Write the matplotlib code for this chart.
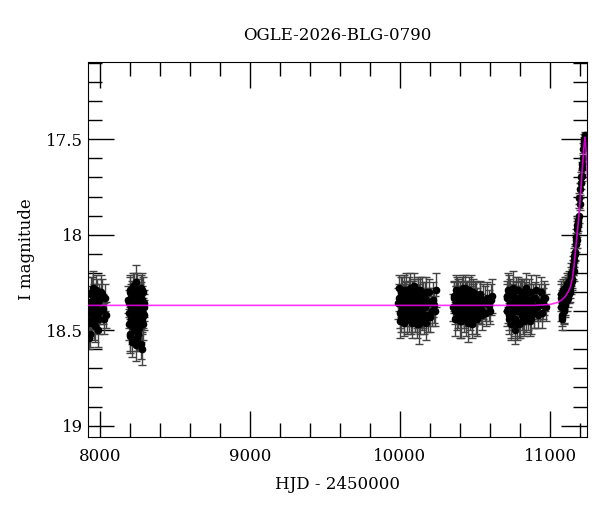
import numpy as np
import matplotlib
matplotlib.use('Agg')
import matplotlib.pyplot as plt
from matplotlib.ticker import MultipleLocator

plt.rcParams['font.family'] = ['DejaVu Serif']

title = 'OGLE-2026-BLG-0790'

# season 1
t1 = [7928, 7932, 7936, 7940, 7945, 7949, 7953, 7958, 7962, 7967, 7971, 7976, 7981, 7986, 7992, 8001, 8012, 8025, 8033]
m1 = [18.54, 18.52, 18.35, 18.41, 18.30, 18.44, 18.37, 18.33, 18.47, 18.39, 18.29, 18.42, 18.36, 18.50, 18.34, 18.40, 18.31, 18.44, 18.33]
e1 = [0.06, 0.07, 0.08, 0.07, 0.08, 0.07, 0.08, 0.07, 0.08, 0.09, 0.08, 0.07, 0.08, 0.09, 0.08, 0.07, 0.08, 0.08, 0.07]
t1b = [7930, 7934, 7938, 7943, 7947, 7951, 7956, 7960, 7965, 7969, 7974, 7979, 7984, 7989, 7996, 8006, 8018, 8040]
m1b = [18.46, 18.38, 18.31, 18.45, 18.36, 18.40, 18.28, 18.43, 18.34, 18.48, 18.37, 18.32, 18.41, 18.35, 18.44, 18.30, 18.39, 18.42]
e1b = [0.08, 0.07, 0.09, 0.08, 0.07, 0.08, 0.09, 0.07, 0.08, 0.08, 0.07, 0.09, 0.08, 0.07, 0.08, 0.09, 0.08, 0.07]

# season 2
t2 = [8190, 8194, 8198, 8201, 8205, 8208, 8212, 8215, 8219, 8222, 8226, 8229, 8233, 8236, 8240, 8243, 8247, 8250, 8254, 8257, 8261, 8264, 8268, 8271, 8275, 8278, 8282, 8285, 8289, 8293]
m2 = [18.34, 18.47, 18.29, 18.52, 18.38, 18.44, 18.56, 18.31, 18.40, 18.35, 18.49, 18.27, 18.42, 18.33, 18.58, 18.25, 18.30, 18.45, 18.39, 18.52, 18.32, 18.43, 18.36, 18.28, 18.47, 18.60, 18.34, 18.41, 18.30, 18.38]
e2 = [0.07, 0.08, 0.08, 0.09, 0.07, 0.08, 0.08, 0.07, 0.09, 0.08, 0.08, 0.07, 0.08, 0.09, 0.08, 0.09, 0.07, 0.08, 0.08, 0.09, 0.07, 0.08, 0.08, 0.07, 0.09, 0.08, 0.07, 0.08, 0.08, 0.07]
t2b = [8192, 8196, 8200, 8203, 8206, 8210, 8213, 8217, 8220, 8224, 8227, 8231, 8234, 8238, 8241, 8245, 8248, 8252, 8255, 8259, 8262, 8266, 8269, 8273, 8276, 8280, 8283, 8287, 8291, 8296]
m2b = [18.41, 18.36, 18.53, 18.30, 18.45, 18.33, 18.48, 18.39, 18.27, 18.43, 18.35, 18.50, 18.32, 18.38, 18.46, 18.29, 18.54, 18.37, 18.31, 18.42, 18.49, 18.34, 18.40, 18.57, 18.33, 18.44, 18.29, 18.47, 18.36, 18.42]
e2b = [0.08, 0.07, 0.09, 0.08, 0.08, 0.07, 0.09, 0.08, 0.07, 0.08, 0.09, 0.08, 0.07, 0.08, 0.08, 0.09, 0.07, 0.08, 0.08, 0.07, 0.09, 0.08, 0.07, 0.08, 0.08, 0.07, 0.09, 0.08, 0.07, 0.08]

# season 3
t3 = [9992, 9998, 10004, 10009, 10015, 10021, 10027, 10033, 10039, 10045, 10051, 10057, 10063, 10069, 10075, 10081, 10087, 10093, 10099, 10105, 10111, 10117, 10123, 10129, 10135, 10141, 10147, 10153, 10160, 10168, 10176, 10185, 10196, 10210, 10228, 10242]
m3 = [18.28, 18.41, 18.35, 18.44, 18.31, 18.38, 18.46, 18.33, 18.29, 18.40, 18.36, 18.43, 18.30, 18.37, 18.45, 18.32, 18.39, 18.27, 18.42, 18.35, 18.47, 18.31, 18.38, 18.47, 18.29, 18.36, 18.41, 18.33, 18.45, 18.38, 18.30, 18.42, 18.35, 18.40, 18.37, 18.29]
e3 = [0.07, 0.08, 0.08, 0.07, 0.09, 0.08, 0.07, 0.08, 0.09, 0.08, 0.07, 0.08, 0.08, 0.09, 0.07, 0.08, 0.08, 0.07, 0.09, 0.08, 0.07, 0.08, 0.08, 0.10, 0.07, 0.08, 0.09, 0.08, 0.07, 0.08, 0.08, 0.09, 0.07, 0.08, 0.09, 0.09]
t3b = [9989, 9995, 10001, 10006, 10012, 10018, 10024, 10030, 10036, 10042, 10048, 10054, 10060, 10066, 10072, 10078, 10084, 10090, 10096, 10102, 10108, 10114, 10120, 10126, 10132, 10138, 10144, 10150, 10156, 10164, 10172, 10180, 10190, 10203, 10218, 10235]
m3b = [18.36, 18.33, 18.45, 18.30, 18.39, 18.34, 18.29, 18.42, 18.37, 18.32, 18.44, 18.38, 18.35, 18.28, 18.41, 18.46, 18.33, 18.38, 18.30, 18.43, 18.36, 18.40, 18.29, 18.34, 18.44, 18.39, 18.31, 18.37, 18.42, 18.33, 18.46, 18.36, 18.30, 18.43, 18.34, 18.40]
e3b = [0.08, 0.07, 0.09, 0.08, 0.07, 0.08, 0.08, 0.09, 0.07, 0.08, 0.08, 0.07, 0.09, 0.08, 0.07, 0.08, 0.09, 0.08, 0.07, 0.08, 0.08, 0.09, 0.07, 0.08, 0.08, 0.07, 0.09, 0.08, 0.07, 0.08, 0.09, 0.08, 0.07, 0.08, 0.09, 0.08]

# season 4
t4 = [10358, 10364, 10370, 10376, 10382, 10388, 10394, 10400, 10406, 10412, 10418, 10424, 10430, 10436, 10442, 10448, 10454, 10460, 10466, 10472, 10478, 10484, 10490, 10497, 10504, 10512, 10520, 10530, 10542, 10556, 10572, 10590, 10606]
m4 = [18.33, 18.40, 18.29, 18.36, 18.43, 18.31, 18.38, 18.34, 18.45, 18.30, 18.37, 18.41, 18.28, 18.35, 18.44, 18.32, 18.39, 18.36, 18.42, 18.30, 18.47, 18.34, 18.38, 18.31, 18.43, 18.36, 18.40, 18.33, 18.39, 18.35, 18.41, 18.37, 18.34]
e4 = [0.08, 0.07, 0.08, 0.09, 0.07, 0.08, 0.08, 0.07, 0.09, 0.08, 0.10, 0.08, 0.07, 0.08, 0.09, 0.08, 0.07, 0.08, 0.08, 0.09, 0.07, 0.08, 0.08, 0.07, 0.09, 0.08, 0.07, 0.08, 0.08, 0.09, 0.07, 0.08, 0.08]
t4b = [10355, 10361, 10367, 10373, 10379, 10385, 10391, 10397, 10403, 10409, 10415, 10421, 10427, 10433, 10439, 10445, 10451, 10457, 10463, 10469, 10475, 10481, 10487, 10494, 10501, 10508, 10516, 10525, 10536, 10549, 10564, 10581, 10598, 10612]
m4b = [18.38, 18.32, 18.44, 18.35, 18.29, 18.41, 18.36, 18.45, 18.31, 18.39, 18.33, 18.28, 18.42, 18.37, 18.31, 18.40, 18.46, 18.33, 18.29, 18.38, 18.35, 18.43, 18.30, 18.40, 18.36, 18.32, 18.44, 18.38, 18.31, 18.42, 18.36, 18.33, 18.40, 18.32]
e4b = [0.07, 0.08, 0.09, 0.08, 0.07, 0.08, 0.08, 0.09, 0.07, 0.08, 0.08, 0.07, 0.09, 0.08, 0.07, 0.08, 0.10, 0.08, 0.07, 0.08, 0.08, 0.09, 0.07, 0.08, 0.08, 0.07, 0.09, 0.08, 0.07, 0.08, 0.09, 0.08, 0.07, 0.09]

# season 5
t5 = [10714, 10719, 10724, 10729, 10734, 10739, 10744, 10749, 10754, 10759, 10765, 10771, 10777, 10783, 10789, 10795, 10801, 10807, 10813, 10819, 10825, 10831, 10837, 10843, 10850, 10857, 10864, 10872, 10880, 10890, 10900, 10912, 10925, 10940, 10955, 10968]
m5 = [18.32, 18.39, 18.44, 18.30, 18.36, 18.47, 18.34, 18.41, 18.28, 18.37, 18.50, 18.33, 18.46, 18.35, 18.29, 18.40, 18.46, 18.32, 18.38, 18.44, 18.31, 18.36, 18.42, 18.28, 18.39, 18.34, 18.45, 18.30, 18.37, 18.41, 18.33, 18.38, 18.35, 18.30, 18.36, 18.33]
e5 = [0.08, 0.07, 0.08, 0.09, 0.07, 0.08, 0.08, 0.07, 0.09, 0.08, 0.07, 0.08, 0.09, 0.08, 0.07, 0.08, 0.08, 0.09, 0.07, 0.08, 0.08, 0.07, 0.09, 0.08, 0.07, 0.08, 0.08, 0.09, 0.07, 0.08, 0.08, 0.07, 0.09, 0.08, 0.08, 0.07]
t5b = [10711, 10716, 10721, 10726, 10731, 10736, 10741, 10746, 10751, 10756, 10762, 10768, 10774, 10780, 10786, 10792, 10798, 10804, 10810, 10816, 10822, 10828, 10834, 10840, 10846, 10853, 10860, 10868, 10876, 10885, 10895, 10906, 10918, 10932, 10947, 10962, 10972]
m5b = [18.40, 18.33, 18.29, 18.42, 18.37, 18.31, 18.45, 18.36, 18.40, 18.32, 18.38, 18.44, 18.29, 18.40, 18.35, 18.47, 18.33, 18.38, 18.30, 18.42, 18.36, 18.45, 18.32, 18.39, 18.34, 18.41, 18.30, 18.38, 18.44, 18.33, 18.40, 18.29, 18.42, 18.37, 18.41, 18.33, 18.38]
e5b = [0.08, 0.07, 0.09, 0.08, 0.07, 0.08, 0.09, 0.08, 0.07, 0.08, 0.08, 0.09, 0.07, 0.08, 0.08, 0.07, 0.09, 0.08, 0.07, 0.08, 0.09, 0.08, 0.07, 0.08, 0.08, 0.09, 0.07, 0.08, 0.08, 0.07, 0.09, 0.08, 0.07, 0.08, 0.08, 0.09, 0.07]

# season 6 (rise)
t6 = [11072, 11076, 11080, 11084, 11088, 11092, 11096, 11100, 11105, 11110, 11115, 11120, 11125, 11130, 11135, 11140, 11145, 11150, 11155, 11160, 11165, 11170, 11175, 11180, 11185, 11190, 11195, 11200, 11205, 11210, 11214, 11218, 11222, 11226, 11229, 11232, 11235]
m6 = [18.38, 18.31, 18.42, 18.35, 18.29, 18.40, 18.33, 18.36, 18.28, 18.34, 18.30, 18.27, 18.31, 18.25, 18.28, 18.22, 18.24, 18.19, 18.16, 18.13, 18.09, 18.05, 18.01, 17.97, 17.93, 17.90, 17.81, 17.76, 17.73, 17.69, 17.65, 17.60, 17.55, 17.53, 17.50, 17.48, 17.51]
e6 = [0.07, 0.07, 0.06, 0.07, 0.06, 0.07, 0.06, 0.06, 0.06, 0.06, 0.05, 0.06, 0.05, 0.05, 0.05, 0.05, 0.05, 0.04, 0.05, 0.04, 0.04, 0.04, 0.04, 0.04, 0.03, 0.04, 0.03, 0.03, 0.03, 0.03, 0.03, 0.03, 0.03, 0.02, 0.03, 0.02, 0.03]
t6b = [11074, 11078, 11082, 11086, 11090, 11094, 11098, 11103, 11108, 11113, 11118, 11123, 11128, 11133, 11138, 11143, 11148, 11153, 11158, 11163, 11168, 11173, 11178, 11183, 11188, 11198, 11208, 11216, 11224]
m6b = [18.33, 18.44, 18.36, 18.30, 18.39, 18.34, 18.28, 18.37, 18.31, 18.26, 18.33, 18.29, 18.24, 18.30, 18.26, 18.20, 18.23, 18.17, 18.19, 18.11, 18.10, 18.03, 18.03, 17.95, 17.95, 17.84, 17.70, 17.63, 17.52]
e6b = [0.07, 0.06, 0.07, 0.06, 0.07, 0.06, 0.06, 0.06, 0.05, 0.06, 0.05, 0.06, 0.05, 0.05, 0.05, 0.05, 0.05, 0.04, 0.05, 0.04, 0.04, 0.04, 0.04, 0.04, 0.03, 0.03, 0.03, 0.03, 0.03]

# model curve
model_t = [7918, 10900, 11000, 11050, 11080, 11100, 11120, 11135, 11150, 11160, 11170, 11180, 11190, 11200, 11210, 11220, 11228, 11233, 11237, 11242, 11250]
model_m = [18.37, 18.37, 18.365, 18.355, 18.34, 18.325, 18.30, 18.275, 18.225, 18.16, 18.08, 18.00, 17.92, 17.82, 17.71, 17.60, 17.52, 17.49, 17.52, 17.60, 17.72]

t = np.concatenate([t1, t1b, t2, t2b, t3, t3b, t4, t4b, t5, t5b, t6, t6b])
m = np.concatenate([m1, m1b, m2, m2b, m3, m3b, m4, m4b, m5, m5b, m6, m6b])
e = np.concatenate([e1, e1b, e2, e2b, e3, e3b, e4, e4b, e5, e5b, e6, e6b])

fig = plt.figure(figsize=(6, 5.12), dpi=100)
ax = fig.add_axes([0.146, 0.147, 0.833, 0.732])

ax.errorbar(t, m, yerr=e, fmt='o', color='black', ms=4.5, ecolor='#444444',
            elinewidth=1, capsize=3, capthick=1, zorder=2)
ax.plot(model_t, model_m, color='magenta', lw=1.2, alpha=0.8, zorder=3)

ax.set_xlim(7918, 11249)
ax.set_ylim(19.058, 17.095)

ax.xaxis.set_major_locator(MultipleLocator(1000))
ax.xaxis.set_minor_locator(MultipleLocator(200))
ax.yaxis.set_major_locator(MultipleLocator(0.5))
ax.yaxis.set_minor_locator(MultipleLocator(0.1))
ax.yaxis.set_major_formatter(plt.FuncFormatter(lambda v, p: '%g' % v))
ax.tick_params(which='both', direction='in', top=True, right=True, labelsize=12)
ax.tick_params(which='major', length=19, width=1)
ax.tick_params(which='minor', length=10, width=1)
ax.tick_params(axis='x', pad=8)

ax.set_xlabel('HJD - 2450000', fontsize=12, labelpad=8)
ax.set_ylabel('I magnitude', fontsize=12, labelpad=8)
ax.set_title(title, fontsize=12, pad=16)

fig.savefig('out.png', dpi=100)
